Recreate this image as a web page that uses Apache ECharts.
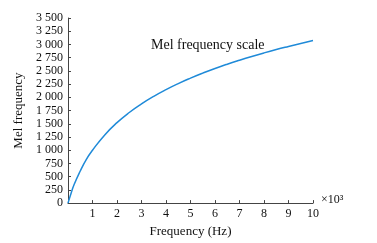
<!DOCTYPE html>
<html>
<head>
<meta charset="utf-8">
<script src="https://cdn.jsdelivr.net/npm/echarts@6/dist/echarts.min.js"></script>
<style>
  html, body { margin: 0; padding: 0; background: #fff; }
  #chart { width: 377px; height: 243px; }
</style>
</head>
<body>
<div id="chart"></div>
<script>
// frequency in kHz (x10^3 Hz)
const freqKHz = [0, 0.1, 0.25, 0.5, 0.75, 1, 1.5, 2, 2.5, 3, 3.5, 4, 4.5, 5, 5.5, 6, 6.5, 7, 7.5, 8, 8.5, 9, 9.5, 10]
// mel values
const melValues = [0, 150, 350, 607, 828, 1000, 1290, 1521, 1713, 1876, 2019, 2146, 2260, 2363, 2458, 2546, 2627, 2702, 2773, 2840, 2903, 2962, 3019, 3073]
const xTicks = [1, 2, 3, 4, 5, 6, 7, 8, 9, 10]

const font = 'Liberation Serif'
const chart = echarts.init(document.getElementById('chart'))
chart.setOption({
  backgroundColor: '#fff',
  animation: false,
  title: {
    text: 'Mel frequency scale',
    left: 146,
    top: 33,
    textStyle: { fontFamily: font, fontSize: 14, fontWeight: 'normal', color: '#111' }
  },
  grid: { left: 68, right: 64, top: 18, bottom: 38 },
  xAxis: {
    type: 'value',
    min: 0,
    max: 10,
    interval: 1,
    name: 'Frequency (Hz)',
    nameLocation: 'middle',
    nameGap: 20,
    nameTextStyle: { fontFamily: font, fontSize: 13, color: '#111' },
    axisLine: { lineStyle: { color: '#444', width: 1 } },
    axisTick: { inside: true, length: 3, lineStyle: { color: '#444' } },
    splitLine: { show: false },
    axisLabel: {
      fontFamily: font, fontSize: 12, color: '#111', margin: 5,
      formatter: v => (xTicks.indexOf(v) >= 0 ? String(v) : '')
    }
  },
  yAxis: {
    type: 'value',
    min: 0,
    max: 3500,
    interval: 250,
    name: 'Mel frequency',
    nameLocation: 'middle',
    nameGap: 42,
    nameTextStyle: { fontFamily: font, fontSize: 13, color: '#111' },
    axisLine: { show: true, lineStyle: { color: '#444', width: 1 } },
    axisTick: { show: true, inside: true, length: 3, lineStyle: { color: '#444' } },
    splitLine: { show: false },
    axisLabel: {
      fontFamily: font, fontSize: 12, color: '#111', margin: 5,
      formatter: v => String(v).replace(/\B(?=(\d{3})+(?!\d))/g, ' ')
    }
  },
  graphic: [{
    type: 'text',
    left: 321,
    top: 194,
    style: { text: '×10³', font: '12px "Liberation Serif"', fill: '#111' }
  }],
  series: [{
    type: 'line',
    data: freqKHz.map((f, i) => [f, melValues[i]]),
    smooth: true,
    showSymbol: false,
    lineStyle: { color: '#1f8ad8', width: 1.5 }
  }]
})
</script>
</body>
</html>
